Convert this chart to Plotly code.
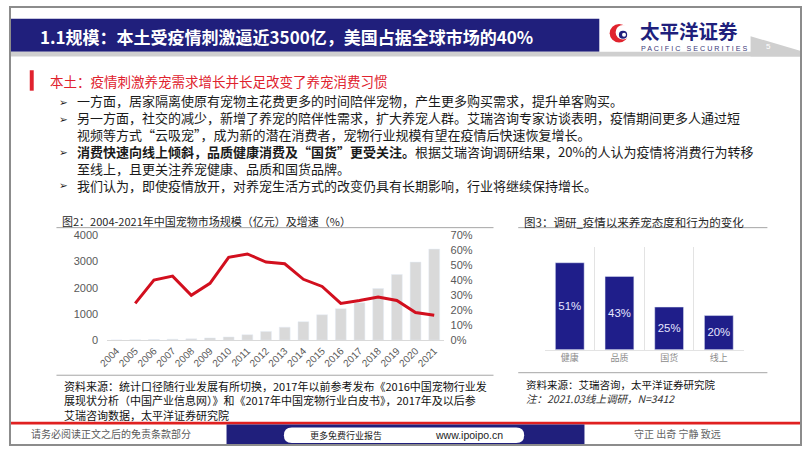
import plotly.graph_objects as go

W, H = 802, 452

# ---------------- data ----------------
years = [str(y) for y in range(2004, 2022)]
market_size = [8, 14, 25, 37, 50, 87, 124, 211, 335, 497, 708, 969, 1205, 1430, 1975, 2509, 2981, 3478]
growth_pct = [None, 24.6, 40.2, 42.8, 30.0, 38.0, 55.4, 57.6, 52.2, 51.1, 40.7, 35.9, 24.6, 26.5, 28.9, 26.5, 18.5, 16.7]
left_ticks = [0, 1000, 2000, 3000, 4000]
right_ticks = [0, 10, 20, 30, 40, 50, 60, 70]
right_ticktext = [f"{v}%" for v in right_ticks]

survey_cats = ["健康", "品质", "国货", "线上"]
survey_vals = [51, 43, 25, 20]

title_text = "1.1规模：本土受疫情刺激逼近3500亿，美国占据全球市场的40%"
heading_text = "本土：疫情刺激养宠需求增长并长足改变了养宠消费习惯"
body_lines = [
    "一方面，居家隔离使原有宠物主花费更多的时间陪伴宠物，产生更多购买需求，提升单客购买。",
    "另一方面，社交的减少，新增了养宠的陪伴性需求，扩大养宠人群。艾瑞咨询专家访谈表明，疫情期间更多人通过短",
    "视频等方式“云吸宠”，成为新的潜在消费者，宠物行业规模有望在疫情后快速恢复增长。",
    "<b>消费快速向线上倾斜，品质健康消费及“国货”更受关注。</b>根据艾瑞咨询调研结果，20%的人认为疫情将消费行为转移",
    "至线上，且更关注养宠健康、品质和国货品牌。",
    "我们认为，即使疫情放开，对养宠生活方式的改变仍具有长期影响，行业将继续保持增长。",
]
bullet_on_line = [True, True, False, True, False, True]

fig2_title = "图2：2004-2021年中国宠物市场规模（亿元）及增速（%）"
fig2_source = [
    "资料来源：统计口径随行业发展有所切换，2017年以前参考发布《2016中国宠物行业发",
    "展现状分析（中国产业信息网）》和《2017年中国宠物行业白皮书》，2017年及以后参",
    "艾瑞咨询数据，太平洋证券研究院",
]
fig3_title = "图3：调研_疫情以来养宠态度和行为的变化"
fig3_source = "资料来源：艾瑞咨询，太平洋证券研究院"
fig3_note = "注：2021.03线上调研，N=3412"

NAVY = "#201f7c"
BAR_NAVY = "#1f1e8a"
RED = "#e0222e"
LINE_RED = "#d20f1e"
CJK = "Noto Sans CJK SC"
LAT = "Liberation Sans"


def px(x):
    return x / W


def py(y):
    return 1 - y / H


fig = go.Figure()

fig.add_trace(go.Bar(x=years, y=market_size, marker_color="#d9d9d9", xaxis="x", yaxis="y",
                     showlegend=False, hoverinfo="skip"))
fig.add_trace(go.Scatter(x=years, y=growth_pct, mode="lines", line=dict(color=LINE_RED, width=3),
                         xaxis="x", yaxis="y2", showlegend=False, hoverinfo="skip"))
fig.add_trace(go.Bar(x=survey_cats, y=survey_vals, marker_color=BAR_NAVY, xaxis="x2", yaxis="y3",
                     text=[f"{v}%" for v in survey_vals], textposition="inside", textangle=0,
                     insidetextanchor="middle", textfont=dict(color="#e6e6ff", size=12.5, family=LAT),
                     showlegend=False, hoverinfo="skip"))

shapes = []


def rect(x0, y0, x1, y1, color, line=None):
    shapes.append(dict(type="rect", xref="paper", yref="paper", x0=px(x0), x1=px(x1), y0=py(y1), y1=py(y0),
                       fillcolor=color, line=dict(width=0) if line is None else line, layer="below"))


def hline(x0, x1, y, color, width=1):
    shapes.append(dict(type="line", xref="paper", yref="paper", x0=px(x0), x1=px(x1), y0=py(y), y1=py(y),
                       line=dict(color=color, width=width)))


def circle(cx, cy, r, color):
    shapes.append(dict(type="circle", xref="paper", yref="paper", x0=px(cx - r), x1=px(cx + r),
                       y0=py(cy + r), y1=py(cy - r), fillcolor=color, line=dict(width=0)))


def poly(points, color):
    d = "M " + " L ".join(f"{px(x)},{py(y)}" for x, y in points) + " Z"
    shapes.append(dict(type="path", xref="paper", yref="paper", path=d, fillcolor=color, line=dict(width=0)))


# header
rect(2, 13, 597, 47, NAVY)
rect(2, 47, 800, 52, "#cfcfcf")
poly([(750, 31), (800, 46), (800, 52), (750, 52)], "#cfcfcf")
# logo icon
circle(617, 28, 9.5, "#e0232d")
circle(621, 27, 7.5, "white")
circle(621, 29.5, 4.2, NAVY)
circle(622, 29.5, 2, "white")

# red bar marker
rect(21, 66, 25, 87, RED)

# chart lines
hline(48, 490, 227.7, "#a6a6a6", 1)
hline(48, 490, 379.3, "#a6a6a6", 1)
hline(515, 767, 227.7, "#a6a6a6", 1)
hline(515, 767, 376.7, "#a6a6a6", 1)

# footer
rect(2, 427, 800, 430, "#e02020")
rect(220, 430, 582, 450, NAVY)
shapes.append(dict(type="path", xref="paper", yref="paper",
                   path=(f"M {px(286)},{py(433)} L {px(513)},{py(433)} "
                         f"Q {px(521)},{py(433)} {px(521)},{py(441)} Q {px(521)},{py(449)} {px(513)},{py(449)} "
                         f"L {px(286)},{py(449)} Q {px(278)},{py(449)} {px(278)},{py(441)} "
                         f"Q {px(278)},{py(433)} {px(286)},{py(433)} Z"),
                   fillcolor="white", line=dict(width=0)))
rect(376, 433.5, 424, 448, "#2a2a86")

# outer border
shapes.append(dict(type="rect", xref="paper", yref="paper", x0=px(1), x1=px(801), y0=py(451), y1=py(1),
                   line=dict(color="#8c8c8c", width=2), fillcolor="rgba(0,0,0,0)"))

annotations = []


def text(x, y, s, size, color="#1a1a1a", family=CJK, anchor="left", align="left"):
    annotations.append(dict(xref="paper", yref="paper", x=px(x), y=py(y), text=s, showarrow=False,
                            xanchor=anchor, yanchor="middle", align=align,
                            font=dict(size=size, color=color, family=family), borderpad=0))


def para(x, first_y, lines, size, color="#1a1a1a", family=CJK):
    # plotly annotation line height = 1.3 * font size
    n = len(lines)
    cy = first_y + (n - 1) * size * 1.3 / 2
    text(x, cy, "<br>".join(lines), size, color, family)


text(30, 31, "<b>" + title_text + "</b>", 17, "white")
text(637, 25, "<b>太平洋证券</b>", 19.5, NAVY)
text(638, 43.5, "P A C I F I C   S E C U R I T I E S", 7.2, "#3a3a7a", LAT)
text(765, 42, "5", 8, "white", LAT)

text(40, 77, heading_text, 13.5, RED)
BODY_SIZE = 13
body_first = 98.9
para(68, body_first, body_lines, BODY_SIZE)
for i, has_b in enumerate(bullet_on_line):
    if has_b:
        text(50, body_first + i * BODY_SIZE * 1.3, "➢", 10.5, "#1a1a1a", "DejaVu Sans")

text(53, 220.7, fig2_title, 11, "#262626")
para(55, 391.0, fig2_source, 11, "#111111")

text(520, 221.7, fig3_title, 11.5, "#262626")
para(522, 389.5, [fig3_source, f"<i><span style='font-size:10.5px;color:#333333'>{fig3_note}</span></i>"],
     10.5, "#111111")

text(21, 439.5, "请务必阅读正文之后的免责条款部分", 10, "#5a5a5a")
text(303, 441, "更多免费行业报告", 9, "#222222")
text(400, 440.5, "井购家", 13, "white", CJK, "center")
text(430, 441, "www.ipoipo.cn", 10.5, "#222222", LAT)
text(631, 439, "守正 出奇 宁静 致远", 10, "#666666")

fig.update_layout(
    width=W, height=H, autosize=False,
    margin=dict(l=0, r=0, t=0, b=0),
    paper_bgcolor="white", plot_bgcolor="rgba(0,0,0,0)",
    font=dict(family=CJK, color="#1a1a1a"),
    bargap=0.42,
    shapes=shapes, annotations=annotations,
    xaxis=dict(domain=[px(99.3), px(439.5)], anchor="y", type="category", tickangle=-45,
               tickfont=dict(size=10, color="#595959", family=LAT), showgrid=False, zeroline=False,
               showline=True, linecolor="#d9d9d9", linewidth=1, ticks=""),
    yaxis=dict(domain=[py(343.3), py(235.7)], anchor="x", range=[0, 4000], tickvals=left_ticks,
               tickfont=dict(size=11, color="#595959", family=LAT), showgrid=False, zeroline=False,
               ticklabelstandoff=8),
    yaxis2=dict(overlaying="y", side="right", anchor="x", range=[0, 70], tickvals=right_ticks,
                ticktext=right_ticktext, tickmode="array",
                tickfont=dict(size=11, color="#595959", family=LAT), showgrid=False, zeroline=False,
                ticklabelstandoff=6),
    xaxis2=dict(domain=[px(542), px(743)], anchor="y3", type="category", tickson="boundaries",
                showgrid=True, gridcolor="#e3e3e3", gridwidth=1, showline=True, linecolor="#e3e3e3",
                tickfont=dict(size=9, color="#8c8c8c", family=CJK), ticks="", zeroline=False),
    yaxis3=dict(domain=[py(353), py(248)], anchor="x2", range=[0, 60], visible=False),
)
fig.update_xaxes(tickangle=-45, selector=dict(anchor="y"))

fig.write_html("out.html", config={"displayModeBar": False, "staticPlot": True},
               post_script="document.body.style.margin='0';document.body.style.overflow='hidden';")
